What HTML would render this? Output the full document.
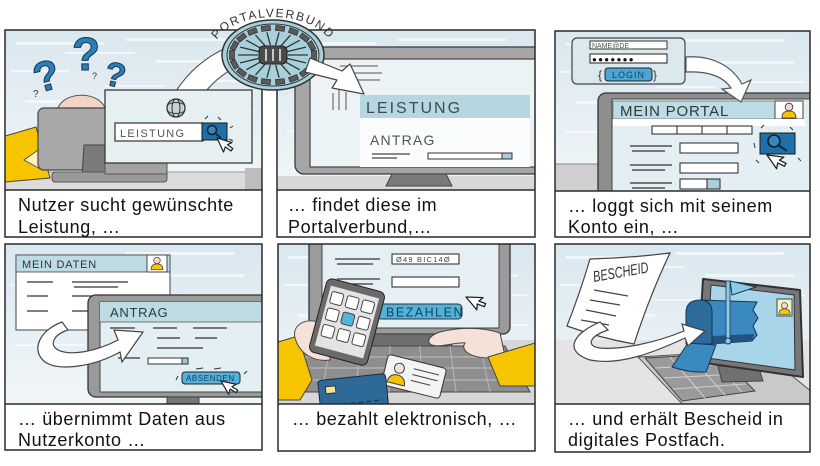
<!DOCTYPE html>
<html><head><meta charset="utf-8"><style>
html,body{margin:0;padding:0;background:#fff;width:820px;height:466px;overflow:hidden}
svg{display:block}
text{font-family:"Liberation Sans",sans-serif}
.cap{font-size:18px;letter-spacing:0.6px;fill:#111}
</style></head><body>
<svg width="820" height="466" viewBox="0 0 820 466" xmlns="http://www.w3.org/2000/svg">
<defs>
<linearGradient id="sky" x1="0" y1="0" x2="0" y2="1">
<stop offset="0" stop-color="#d9e7ef"/><stop offset="1" stop-color="#f1f6f8"/>
</linearGradient>
<clipPath id="c1"><rect x="5" y="30" width="257" height="160"/></clipPath>
<clipPath id="c2"><rect x="277" y="30" width="258" height="160"/></clipPath>
<clipPath id="c3"><rect x="555" y="31" width="255" height="160"/></clipPath>
<clipPath id="c4"><rect x="5" y="244" width="257" height="160"/></clipPath>
<clipPath id="c5"><rect x="278" y="244" width="257" height="160"/></clipPath>
<clipPath id="c6"><rect x="555" y="244" width="255" height="160"/></clipPath>
<g id="streaks" fill="#fff" opacity="0.6">
<rect x="10" y="12" width="90" height="3" rx="1.5"/>
<rect x="120" y="8" width="110" height="3" rx="1.5"/>
<rect x="60" y="22" width="70" height="2" rx="1"/>
<rect x="150" y="30" width="90" height="3" rx="1.5"/>
<rect x="5" y="40" width="60" height="2" rx="1"/>
<rect x="180" y="50" width="70" height="2" rx="1"/>
<rect x="20" y="70" width="80" height="3" rx="1.5"/>
<rect x="200" y="80" width="50" height="2" rx="1"/>
<rect x="100" y="55" width="60" height="2" rx="1"/>
<rect x="10" y="100" width="70" height="2" rx="1"/>
</g>
<path id="cur" d="M0,0 L0,14 L3.5,10.5 L6.5,16 L9,14.8 L6,9.5 L10.5,9.5 Z" fill="#fff" stroke="#222" stroke-width="1.1" stroke-linejoin="round"/>
<g id="person">
<path d="M-7,8 Q-7,1 0,1 Q7,1 7,8 Z" fill="#f6c500" stroke="#333" stroke-width="0.8"/>
<circle cx="0" cy="-3" r="3.8" fill="#f3d9cc" stroke="#333" stroke-width="0.8"/>
</g>
<path id="arc" d="M213,52 A60,35 0 0 1 333,52" fill="none"/>
</defs>

<rect width="820" height="466" fill="#fff"/>

<!-- ========== PANEL 1 ========== -->
<g clip-path="url(#c1)">
<rect x="5" y="30" width="257" height="160" fill="url(#sky)"/>
<use href="#streaks" x="5" y="30"/>
<rect x="5" y="172" width="257" height="18" fill="#dcdcdc"/>
<line x1="5" y1="172" x2="262" y2="172" stroke="#999"/>
<rect x="245" y="168" width="20" height="22" fill="#bdbdbd"/>
<path d="M5,136 L36,127 L50,178 L5,182 Z" fill="#f6c500" stroke="#444"/>
<path d="M24,160 L38,150 L42,170 Z" fill="#fdf0c0" stroke="#444" stroke-width="0.8"/>
<path d="M57,114 C57,89 106,89 106,114 Z" fill="#f2d3c6" stroke="#555"/>
<rect x="38" y="108" width="78" height="62" rx="6" fill="#a8a8a8" stroke="#444" stroke-width="1.2"/>
<path d="M84,145 L114,145 L116,176 L82,176 Z" fill="#7b7b7b" stroke="#444"/>
<rect x="52" y="172" width="115" height="10" rx="3" fill="#9a9a9a" stroke="#555"/>
<rect x="105" y="150" width="62" height="24" fill="#a2a2a2" stroke="#555"/>
<text x="72" y="70" font-size="46" font-weight="bold" fill="#2b7fb8" stroke="#17344d" stroke-width="1">?</text>
<text x="33" y="90" font-size="42" font-weight="bold" fill="#2b7fb8" stroke="#17344d" stroke-width="1" transform="rotate(-15,47,74)">?</text>
<text x="105" y="87" font-size="34" font-weight="bold" fill="#2b7fb8" stroke="#17344d" stroke-width="1" transform="rotate(12,118,75)">?</text>
<text x="33" y="97" font-size="10" fill="#333">?</text>
<text x="92" y="79" font-size="9" fill="#333">?</text>
<path d="M176,91 Q195,62 226,48 L242,64 Q220,74 206,91 Z" fill="#fff" stroke="#555" stroke-width="1.2"/>
<rect x="105" y="90" width="147" height="73" fill="#e6f0f3" stroke="#3a3a3a" stroke-width="1.3"/>
<circle cx="176" cy="108" r="9" fill="#c9d3d6" stroke="#333" stroke-width="1.3"/>
<ellipse cx="176" cy="108" rx="4" ry="9" fill="none" stroke="#333"/>
<path d="M167,105 Q176,100 185,105 M167,111 Q176,116 185,111" stroke="#333" fill="none"/>
<rect x="115" y="123" width="88" height="18" fill="#fff" stroke="#333" stroke-width="1.2"/>
<text x="120" y="137" font-size="11" letter-spacing="1.3" fill="#555">LEISTUNG</text>
<rect x="202" y="123" width="25" height="17" fill="#1f6fa8" stroke="#1a1a1a"/>
<circle cx="212" cy="130" r="4.5" fill="#3a86bc" stroke="#0b2033" stroke-width="1.5"/>
<line x1="215" y1="133" x2="221" y2="138" stroke="#0b2033" stroke-width="1.6"/>
<path d="M205,119 L208,116 M218,117 L221,120 M230,128 L233,126 M229,139 L233,141" stroke="#333" fill="none"/>
<use href="#cur" transform="translate(217,138) rotate(-25) scale(1.1)"/>
</g>

<!-- ========== PANEL 2 ========== -->
<g clip-path="url(#c2)">
<rect x="277" y="30" width="258" height="160" fill="url(#sky)"/>
<use href="#streaks" x="277" y="30"/>
<rect x="277" y="176" width="258" height="14" fill="#d8d8d8"/>
<rect x="295" y="47" width="262" height="127" rx="9" fill="#a6a6a6" stroke="#3a3a3a" stroke-width="1.3"/>
<rect x="310" y="59" width="240" height="108" fill="#ebf3f6" stroke="#444" stroke-width="1.2"/>
<path d="M392,174 L446,174 L452,186 L386,186 Z" fill="#7a7a7a" stroke="#444"/>
<path d="M340,66 L378,66 M345,73 L382,73 M350,80 L380,80" stroke="#555" stroke-width="1"/>
<path d="M333,93 L333,110 M339,90 L339,110 M346,92 L346,110" stroke="#555" stroke-width="1"/>
<rect x="360" y="95" width="170" height="23" fill="#b6d7df"/>
<text x="366" y="113" font-size="16" letter-spacing="2" fill="#3d4c52">LEISTUNG</text>
<rect x="360" y="118" width="170" height="49" fill="#fafcfd"/>
<text x="370" y="145" font-size="14" letter-spacing="1.2" fill="#555">ANTRAG</text>
<path d="M372,154 L410,154 M372,158 L397,158" stroke="#444" stroke-width="1.2"/>
<rect x="428" y="153" width="84" height="6" fill="#fff" stroke="#333"/>
<rect x="502" y="153" width="10" height="6" fill="#a8cdd8" stroke="#333"/>
</g>

<!-- ========== PANEL 3 ========== -->
<g clip-path="url(#c3)">
<rect x="555" y="31" width="255" height="160" fill="url(#sky)"/>
<use href="#streaks" x="555" y="31"/>
<rect x="555" y="164" width="50" height="27" fill="#cfcfcf"/>
<line x1="555" y1="164" x2="600" y2="164" stroke="#888"/>
<rect x="598" y="93" width="225" height="110" rx="8" fill="#8e8e8e" stroke="#333" stroke-width="1.3"/>
<rect x="612" y="99" width="205" height="100" fill="#e4eff3" stroke="#444"/>
<rect x="613" y="101" width="162" height="18" fill="#bddbe3" stroke="#555" stroke-width="0.6"/>
<text x="620" y="116" font-size="15" letter-spacing="0.8" fill="#2e3a3e">MEIN PORTAL</text>
<rect x="775" y="101" width="28" height="18" fill="#fff" stroke="#444"/>
<use href="#person" transform="translate(789,110)"/>
<rect x="613" y="119" width="192" height="7" fill="#fff"/>
<rect x="652" y="126" width="100" height="8" fill="#fff" stroke="#222"/>
<path d="M677,126 L677,134 M702,126 L702,134 M727,126 L727,134" stroke="#222"/>
<path d="M630,146 L672,146 M632,151 L665,151 M630,165 L672,165 M632,170 L665,170 M630,183 L672,183 M632,188 L665,188" stroke="#333" stroke-width="1.2"/>
<rect x="680" y="143" width="58" height="10" fill="#fff" stroke="#222"/>
<rect x="680" y="163" width="58" height="10" fill="#fff" stroke="#222"/>
<rect x="680" y="179" width="27" height="10" fill="#fff" stroke="#222"/>
<rect x="707" y="179" width="13" height="10" fill="#a9cfd9" stroke="#222"/>
<rect x="760" y="133" width="35" height="21" fill="#1f6fa8" stroke="#1a1a1a"/>
<circle cx="774" cy="141" r="6" fill="#3a86bc" stroke="#0b2033" stroke-width="1.6"/>
<line x1="778" y1="145" x2="787" y2="151" stroke="#0b2033" stroke-width="1.8"/>
<path d="M761,128 L764,125 M790,127 L793,130 M754,143 L755,148 M798,158 L801,161 M756,160 L759,163" stroke="#333"/>
<use href="#cur" transform="translate(767,155) rotate(-35) scale(1.2)"/>
<rect x="572" y="38" width="113" height="46" rx="5" fill="#dbe8ee" stroke="#444" stroke-width="1.2"/>
<rect x="590" y="41" width="77" height="8" fill="#fff" stroke="#333"/>
<text x="592" y="48" font-size="7" fill="#555">NAME@DE_</text>
<rect x="590" y="54" width="77" height="9" fill="#fff" stroke="#222"/>
<text x="592" y="62" font-size="8" letter-spacing="1.3" fill="#111">●●●●●●●</text>
<rect x="605" y="68" width="47" height="13" rx="3" fill="#4ba6d4" stroke="#222"/>
<text x="628.5" y="78" font-size="9" letter-spacing="1" fill="#1a3a55" text-anchor="middle">LOGIN</text>
<text x="598" y="79" font-size="12" fill="#333">{</text>
<text x="653" y="79" font-size="12" fill="#333">}</text>
<path d="M686,57 C712,55 732,66 742,84 L751,80 L741,102 L722,89 L731,88 C723,76 707,71 686,72 Z" fill="#fff" stroke="#555" stroke-width="1.2"/>
</g>

<!-- ========== PANEL 4 ========== -->
<g clip-path="url(#c4)">
<rect x="5" y="244" width="257" height="160" fill="url(#sky)"/>
<use href="#streaks" x="5" y="244"/>
<rect x="16" y="255" width="154" height="75" fill="#fff" stroke="#444"/>
<rect x="16" y="255" width="154" height="17" fill="#bddbe3" stroke="#444" stroke-width="0.8"/>
<text x="22" y="268" font-size="11" letter-spacing="0.8" fill="#333">MEIN DATEN</text>
<rect x="147" y="255" width="20" height="17" fill="#fff" stroke="#444"/>
<use href="#person" transform="translate(157,263) scale(0.85)"/>
<path d="M27,282 L53,282 M72,282 L128,282 M74,287 L118,287 M27,296 L48,296 M72,296 L95,296 M27,311 L48,311 M72,311 L95,311" stroke="#333" stroke-width="1.2"/>
<rect x="88" y="295" width="190" height="102" rx="8" fill="#9a9a9a" stroke="#333" stroke-width="1.3"/>
<rect x="100" y="302" width="175" height="90" fill="#e4eff3" stroke="#444"/>
<rect x="100" y="302" width="175" height="20" fill="#bddbe3"/>
<line x1="100" y1="322" x2="275" y2="322" stroke="#555" stroke-width="0.8"/>
<text x="110" y="317" font-size="13" letter-spacing="0.7" fill="#2e3a3e">ANTRAG</text>
<path d="M110,328 L135,328 M153,328 L177,328 M193,328 L227,328 M157,338 L180,338 M195,338 L217,338 M157,348 L203,348 M118,358 L140,358" stroke="#333" stroke-width="1.2"/>
<rect x="148" y="358" width="40" height="6" fill="#fff" stroke="#333"/>
<rect x="182" y="358" width="6" height="6" fill="#9cc9d6" stroke="#333"/>
<rect x="182" y="372" width="58" height="12" rx="3" fill="#55b1da" stroke="#222"/>
<text x="186" y="381" font-size="8" letter-spacing="0.6" fill="#1a3a55">ABSENDEN</text>
<path d="M178,376 L176,380 M244,374 L247,371 M196,369 L203,368 M214,369 L221,368" stroke="#333"/>
<use href="#cur" transform="translate(221,381) rotate(-30) scale(1.1)"/>
<rect x="167" y="397" width="32" height="8" fill="#777" stroke="#444"/>
<path d="M62,322 C40,330 30,350 45,362 C60,372 95,366 120,352 L122,362 L143,332 L114,330 L118,340 C95,352 70,356 58,350 C48,344 55,334 68,330 Z" fill="#fff" stroke="#444" stroke-width="1.2"/>
</g>

<!-- ========== PANEL 5 ========== -->
<g clip-path="url(#c5)">
<rect x="278" y="244" width="257" height="160" fill="url(#sky)"/>
<use href="#streaks" x="278" y="244"/>
<rect x="278" y="340" width="257" height="64" fill="#d7d7d7"/>
<rect x="309" y="236" width="201" height="98" rx="7" fill="#9b9b9b" stroke="#333" stroke-width="1.3"/>
<rect x="322" y="236" width="177" height="92" fill="#e6f0f4" stroke="#444"/>
<rect x="392" y="254" width="67" height="10" fill="#fff" stroke="#222"/>
<text x="396" y="262" font-size="7.5" letter-spacing="1.2" fill="#444">Ø49 BIC14Ø</text>
<path d="M335,259 L380,259 M337,264 L373,264 M337,279 L380,279 M337,284 L373,284" stroke="#333" stroke-width="1.2"/>
<rect x="392" y="277" width="67" height="10" fill="#fff" stroke="#222"/>
<rect x="377" y="304" width="85" height="15" rx="4" fill="#50b3dc" stroke="#333"/>
<text x="386" y="316.5" font-size="12.5" letter-spacing="1.5" fill="#1d3d5a">BEZAHLEN</text>
<use href="#cur" transform="translate(466,297) rotate(-40) scale(1.2)"/>
<path d="M357,334 L447,334 L452,346 L352,346 Z" fill="#6e6e6e" stroke="#444"/>
<path d="M300,346 L505,346 L530,392 L285,392 Z" fill="#8e8e8e" stroke="#444"/>
<path d="M296,357 L510,357 M292,368 L516,368 M289,380 L523,380" stroke="#b8b8b8" stroke-width="1.2"/>
<path d="M330,346 L322,392 M360,346 L356,392 M390,346 L389,392 M420,346 L422,392 M450,346 L456,392 M480,346 L490,392" stroke="#b8b8b8" stroke-width="1"/>
<path d="M500,333 C480,326 455,328 440,332 C430,335 425,342 432,345 C440,348 455,342 465,343 C460,350 470,358 490,358 L505,356 Z" fill="#f5e1d7" stroke="#444"/>
<path d="M488,357 L535,343 L535,386 L500,386 Z" fill="#f6c500" stroke="#444"/>
<path d="M278,342 L298,336 L312,380 L300,400 L278,400 Z" fill="#f6c500" stroke="#444"/>
<path d="M295,338 C292,325 305,318 318,322 L330,325 L330,360 C315,362 300,355 295,338 Z" fill="#f5e1d7" stroke="#444"/>
<g transform="rotate(15,347,322)">
<rect x="317" y="284" width="60" height="76" rx="6" fill="#6a6a6a" stroke="#222"/>
<rect x="322" y="291" width="50" height="62" fill="#e3e3e3"/>
<g fill="#fff" stroke="#444">
<rect x="325" y="296" width="12" height="12" rx="2"/><rect x="341" y="296" width="12" height="12" rx="2"/><rect x="357" y="296" width="12" height="12" rx="2"/>
<rect x="325" y="313" width="12" height="12" rx="2"/><rect x="341" y="313" width="12" height="12" rx="2" fill="#52b4de"/><rect x="357" y="313" width="12" height="12" rx="2"/>
<rect x="325" y="330" width="12" height="12" rx="2"/><rect x="341" y="330" width="12" height="12" rx="2"/><rect x="357" y="330" width="12" height="12" rx="2"/>
</g>
</g>
<g transform="rotate(14,414,376)">
<rect x="384" y="361" width="60" height="31" rx="3" fill="#f4f4f4" stroke="#333"/>
<path d="M389,388 Q390,379 398,379 Q406,379 407,388 Z" fill="#f6c500" stroke="#444"/>
<circle cx="398" cy="372" r="5" fill="#f5e1d7" stroke="#444"/>
<path d="M412,369 L438,369 M412,375 L438,375 M412,381 L432,381" stroke="#444"/>
</g>
<g transform="rotate(-6,353,392)">
<rect x="319" y="377" width="68" height="34" rx="3" fill="#2e6a98" stroke="#1b2b3b"/>
<rect x="326" y="384" width="10" height="7" fill="#f2e4a0" stroke="#333"/>
<line x1="325" y1="403" x2="382" y2="403" stroke="#1d3f5f" stroke-width="1.5" stroke-dasharray="5 3"/>
</g>
</g>

<!-- ========== PANEL 6 ========== -->
<g clip-path="url(#c6)">
<rect x="555" y="244" width="255" height="160" fill="url(#sky)"/>
<use href="#streaks" x="555" y="244"/>
<rect x="555" y="340" width="255" height="64" fill="#e4e4e4"/>
<path d="M638,357 L760,350 L812,392 L812,406 L684,406 Z" fill="#c9c9c9" stroke="#555"/>
<path d="M645,358 L718,354 L755,391 L682,401 Z" fill="#9a9a9a" stroke="#444"/>
<path d="M655,368 L728,364 M664,378 L738,374 M673,389 L746,384 M670,357 L705,398 M690,356 L725,395 M708,355 L742,392" stroke="#d0d0d0" stroke-width="1"/>
<path d="M718,366 L758,365 L763,381 L722,382 Z" fill="#707070" stroke="#444"/>
<path d="M703,279 L800,290 L803,377 L698,362 Z" fill="#777" stroke="#333" stroke-width="2" stroke-linejoin="round"/>
<path d="M711,285 L794,295 L795,370 L707,358 Z" fill="#a9d5ea" stroke="#333"/>
<rect x="777" y="299" width="15" height="17" fill="#f3f3c8" stroke="#444"/>
<use href="#person" transform="translate(784.5,308) scale(0.8)"/>
<path d="M700,300 L757,302 L753,310 L758,318 L753,326 L757,335 L752,341 L712,344 L712,313 Q712,300 700,300 Z" fill="#3a8ac0" stroke="#183550"/>
<path d="M712,336 L754,334 L752,341 L712,344 Z" fill="#205580"/>
<path d="M686,344 L686,313 Q686,300 700,300 Q712,300 712,313 L712,344 Z" fill="#2c6b9a" stroke="#183550"/>
<path d="M688,343 L716,345 L706,372 Q690,373 672,367 Z" fill="#3a8ac0" stroke="#183550"/>
<rect x="726" y="281" width="4" height="60" fill="#8ccbe8" stroke="#183550" stroke-width="0.8"/>
<path d="M730,281 L756,287 L732,295 Z" fill="#8ccbe8" stroke="#183550"/>
<circle cx="728" cy="341" r="3" fill="#8ccbe8" stroke="#183550"/>
<path d="M590,259 Q630,258 670,253 Q650,295 634,344 Q600,338 567,326 Q580,293 590,259 Z" fill="#fff" stroke="#444" stroke-width="1.2"/>
<text transform="translate(594,282) rotate(-10) scale(1,1.4)" font-size="11" font-style="italic" textLength="56" lengthAdjust="spacingAndGlyphs" fill="#333">BESCHEID</text>
<path d="M594,290 L628,296 M590,300 L620,305 M586,310 L616,316 M581,320 L609,325" stroke="#444" stroke-width="1.2"/>
<path d="M600,322 C570,335 565,352 590,360 C620,366 655,352 685,338 L688,346 L705,331 L682,324 L684,331 C655,343 620,350 600,348 C585,346 590,336 608,330 Z" fill="#fff" stroke="#444" stroke-width="1.2"/>
</g>

<!-- ========== PANEL BORDERS + CAPTIONS ========== -->
<g fill="none" stroke="#2a2a2a" stroke-width="1.5">
<rect x="5" y="30" width="257" height="207"/><line x1="5" y1="190" x2="262" y2="190"/>
<rect x="277" y="30" width="258" height="207"/><line x1="277" y1="190" x2="535" y2="190"/>
<rect x="555" y="31" width="255" height="206"/><line x1="555" y1="191" x2="810" y2="191"/>
<rect x="5" y="244" width="257" height="206"/><line x1="5" y1="404" x2="262" y2="404"/>
<rect x="278" y="244" width="257" height="207"/><line x1="278" y1="404" x2="535" y2="404"/>
<rect x="555" y="244" width="255" height="208"/><line x1="555" y1="404" x2="810" y2="404"/>
</g>

<text class="cap" x="18" y="211">Nutzer sucht gewünschte</text>
<text class="cap" x="18" y="233">Leistung, …</text>
<text class="cap" x="288" y="211">… findet diese im</text>
<text class="cap" x="288" y="233">Portalverbund,…</text>
<text class="cap" x="568" y="212">… loggt sich mit seinem</text>
<text class="cap" x="568" y="233">Konto ein, …</text>
<text class="cap" x="18" y="425">… übernimmt Daten aus</text>
<text class="cap" x="18" y="446">Nutzerkonto …</text>
<text class="cap" x="292" y="425">… bezahlt elektronisch, …</text>
<text class="cap" x="568" y="425">… und erhält Bescheid in</text>
<text class="cap" x="568" y="446">digitales Postfach.</text>

<!-- ========== PORTAL CIRCLE ========== -->
<g>
<ellipse cx="273" cy="55" rx="51" ry="35" fill="#a8d0da" stroke="#333" stroke-width="1.5"/>
<ellipse cx="273" cy="55" rx="46" ry="31" fill="none" stroke="#333" stroke-width="1"/>
<g stroke="#333" stroke-width="1.3">
<line x1="288" y1="55" x2="308" y2="55"/><line x1="287.1" y1="58.4" x2="305.9" y2="62.9"/>
<line x1="284.5" y1="61.4" x2="299.8" y2="69.8"/><line x1="280.5" y1="63.7" x2="290.5" y2="74.9"/>
<line x1="275.6" y1="64.9" x2="279.1" y2="77.7"/><line x1="270.4" y1="64.9" x2="266.9" y2="77.7"/>
<line x1="265.5" y1="63.7" x2="255.5" y2="74.9"/><line x1="261.5" y1="61.4" x2="246.2" y2="69.8"/>
<line x1="258.9" y1="58.4" x2="240.1" y2="62.9"/><line x1="258" y1="55" x2="238" y2="55"/>
<line x1="258.9" y1="51.6" x2="240.1" y2="47.1"/><line x1="261.5" y1="48.6" x2="246.2" y2="40.2"/>
<line x1="265.5" y1="46.3" x2="255.5" y2="35.1"/><line x1="270.4" y1="45.2" x2="266.9" y2="32.3"/>
<line x1="275.6" y1="45.2" x2="279.1" y2="32.3"/><line x1="280.5" y1="46.3" x2="290.5" y2="35.1"/>
<line x1="284.5" y1="48.6" x2="299.8" y2="40.2"/><line x1="287.1" y1="51.6" x2="305.9" y2="47.1"/>
</g>
<g fill="#5a5a5a" stroke="#222" stroke-width="0.6">
<rect x="-4.5" y="-2.5" width="9" height="5" transform="translate(314,55) rotate(90)"/>
<rect x="-4.5" y="-2.5" width="9" height="5" transform="translate(311.5,64.2) rotate(119)"/>
<rect x="-4.5" y="-2.5" width="9" height="5" transform="translate(304.4,72.4) rotate(142)"/>
<rect x="-4.5" y="-2.5" width="9" height="5" transform="translate(293.5,78.4) rotate(159)"/>
<rect x="-4.5" y="-2.5" width="9" height="5" transform="translate(280.1,81.6) rotate(173)"/>
<rect x="-4.5" y="-2.5" width="9" height="5" transform="translate(265.9,81.6) rotate(187)"/>
<rect x="-4.5" y="-2.5" width="9" height="5" transform="translate(252.5,78.4) rotate(201)"/>
<rect x="-4.5" y="-2.5" width="9" height="5" transform="translate(241.6,72.4) rotate(218)"/>
<rect x="-4.5" y="-2.5" width="9" height="5" transform="translate(234.5,64.2) rotate(241)"/>
<rect x="-4.5" y="-2.5" width="9" height="5" transform="translate(232,55) rotate(270)"/>
<rect x="-4.5" y="-2.5" width="9" height="5" transform="translate(234.5,45.8) rotate(299)"/>
<rect x="-4.5" y="-2.5" width="9" height="5" transform="translate(241.6,37.6) rotate(322)"/>
<rect x="-4.5" y="-2.5" width="9" height="5" transform="translate(252.5,31.6) rotate(339)"/>
<rect x="-4.5" y="-2.5" width="9" height="5" transform="translate(265.9,28.4) rotate(353)"/>
<rect x="-4.5" y="-2.5" width="9" height="5" transform="translate(280.1,28.4) rotate(7)"/>
<rect x="-4.5" y="-2.5" width="9" height="5" transform="translate(293.5,31.6) rotate(21)"/>
<rect x="-4.5" y="-2.5" width="9" height="5" transform="translate(304.4,37.6) rotate(38)"/>
<rect x="-4.5" y="-2.5" width="9" height="5" transform="translate(311.5,45.8) rotate(61)"/>
</g>
<rect x="259" y="46" width="28" height="18" rx="5" fill="#4a4a4a" stroke="#222"/>
<path d="M266,49 L266,61 M273,49 L273,61 M280,49 L280,61" stroke="#c8c8c8" stroke-width="2"/>
</g>
<text font-size="12" letter-spacing="1.6" fill="#333"><textPath href="#arc" startOffset="50%" text-anchor="middle">PORTALVERBUND</textPath></text>

<path d="M310,58 L342,71 L350,64 L364,94 L332,88 L337,80 L305,72 Z" fill="#fff" stroke="#444" stroke-width="1.2" stroke-linejoin="round"/>
</svg>
</body></html>
